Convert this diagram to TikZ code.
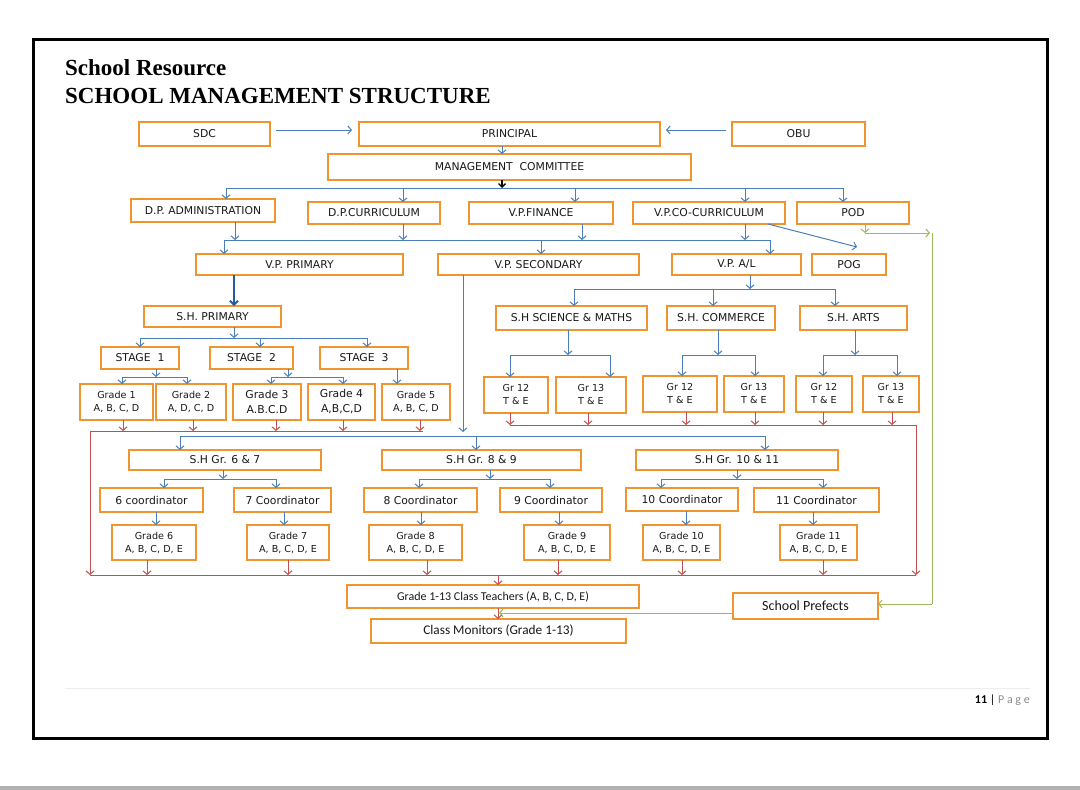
\documentclass[tikz,border=0pt]{standalone}
\usepackage{fontspec}
\setmainfont{Liberation Serif}
\newfontfamily\boxfont{DejaVu Sans}
\newfontfamily\calfont{Carlito}
\usetikzlibrary{arrows.meta,calc}
\definecolor{orgB}{RGB}{240,148,48}
\definecolor{lnB}{RGB}{74,126,187}
\definecolor{lnBd}{RGB}{40,90,160}
\definecolor{lnR}{RGB}{192,80,77}
\definecolor{lnG}{RGB}{155,187,89}
\newcommand\fmain{\boxfont\fontsize{10.8}{15}\selectfont}
\newcommand\fsmall{\boxfont\fontsize{9.6}{13}\selectfont}
\newcommand\fcalA{\calfont\fontsize{12}{12}\selectfont}
\newcommand\fcalB{\calfont\fontsize{13.3}{14}\selectfont}
\newcommand\fcalC{\calfont\fontsize{14}{14}\selectfont}
\newcommand\obox[7][]{\node[box,#1,minimum width={(#4-#2)*1pt},minimum height={(#5-#3)*1pt}] (#6) at ({(#2+#4)/2},{(#3+#5)/2}) {#7};}
\tikzset{
 box/.style={draw=orgB, line width=1.6pt, fill=white, inner sep=0pt, outer sep=0pt, align=center, font=\fmain, text=black!90},
 small/.style={font=\fsmall},
 cala/.style={font=\fcalA},
 calb/.style={font=\fcalB},
 calc3/.style={font=\fcalC},
 bl/.style={draw=lnB, line width=1pt},
 ba/.style={bl, -{Straight Barb[length=3.5pt,width=8pt]}},
 bthick/.style={draw=lnBd, line width=1.8pt, -{Straight Barb[length=4pt,width=8pt]}},
 rl/.style={draw=lnR, line width=1pt},
 ra/.style={rl, -{Straight Barb[length=3.5pt,width=8pt]}},
 gl/.style={draw=lnG, line width=1pt},
 ga/.style={gl, -{Straight Barb[length=3.5pt,width=8pt]}},
 ka/.style={draw=black, line width=1.3pt, -{Straight Barb[length=3.5pt,width=7pt]}},
}
\begin{document}
\begin{tikzpicture}[x=1pt,y=-1pt]
\useasboundingbox (0,0) rectangle (1080,790);
\fill[white] (0,0) rectangle (1080,790);
\fill[black!30] (0,786) rectangle (1080,790);
\draw[line width=3pt] (33,39) rectangle (1047,738);
\draw[black!7, line width=1pt] (65,688) -- (1030,688);
\node[anchor=base west, inner sep=0pt, font=\fontsize{23}{26}\selectfont\bfseries] (t1) at (65,75) {School Resource};
\node[anchor=base west, inner sep=0pt, font=\fontsize{23}{26}\selectfont\bfseries] (t2) at (65,103) {SCHOOL MANAGEMENT STRUCTURE};
\node[anchor=base east, inner sep=0pt, font=\calfont\fontsize{12}{14}\selectfont] (pg) at (1030,703) {\textbf{11} | {\color{black!45}P a g e}};

% boxes
\obox{139}{122}{270}{146}{sdc}{SDC}
\obox{359}{122}{660}{146}{pri}{PRINCIPAL}
\obox{732}{122}{865}{146}{obu}{OBU}
\obox{328}{154}{691}{180}{mc}{MANAGEMENT\ \ COMMITTEE}
\obox{131}{199}{275}{222}{dpa}{D.P. ADMINISTRATION}
\obox{308}{202}{440}{224}{dpc}{D.P.CURRICULUM}
\obox{469}{202}{613}{224}{vpf}{V.P.FINANCE}
\obox{633}{202}{785}{224}{vpc}{V.P.CO-CURRICULUM}
\obox{797}{202}{909}{224}{pod}{POD}
\obox{196}{254}{403}{275}{vpp}{V.P. PRIMARY}
\obox{438}{254}{639}{275}{vps}{V.P. SECONDARY}
\obox{672}{254}{801}{275}{vpa}{V.P. A/L}
\obox{812}{254}{886}{275}{pog}{POG}
\obox{144}{306}{281}{327}{shp}{S.H. PRIMARY}
\obox{496}{306}{647}{330}{shs}{S.H SCIENCE \& MATHS}
\obox{667}{306}{775}{330}{shc}{S.H. COMMERCE}
\obox{800}{306}{907}{330}{sha}{S.H. ARTS}
\obox{101}{347}{179}{369}{st1}{STAGE\ \ 1}
\obox{210}{347}{293}{369}{st2}{STAGE\ \ 2}
\obox{320}{347}{408}{369}{st3}{STAGE\ \ 3}
\obox[small]{80}{384}{153}{420}{g1}{Grade 1\\A, B, C, D}
\obox[small]{156}{384}{226}{420}{g2}{Grade 2\\A, D, C, D}
\obox{233}{384}{301}{420}{g3}{Grade 3\\A.B.C.D}
\obox{308}{384}{375}{420}{g4}{Grade 4\\A,B,C,D}
\obox[small]{382}{384}{450}{420}{g5}{Grade 5\\A, B, C, D}
\obox[small]{484}{377}{548}{413}{a1}{Gr 12\\T \& E}
\obox[small]{556}{377}{626}{413}{a2}{Gr 13\\T \& E}
\obox[small]{643}{376}{717}{412}{a3}{Gr 12\\T \& E}
\obox[small]{724}{376}{784}{412}{a4}{Gr 13\\T \& E}
\obox[small]{796}{376}{852}{412}{a5}{Gr 12\\T \& E}
\obox[small]{863}{376}{919}{412}{a6}{Gr 13\\T \& E}
\obox{129}{450}{321}{470}{s67}{S.H Gr. 6 \& 7}
\obox{382}{450}{581}{470}{s89}{S.H Gr. 8 \& 9}
\obox{636}{450}{838}{470}{s1011}{S.H Gr. 10 \& 11}
\obox{100}{488}{203}{512}{c6}{6 coordinator}
\obox{234}{488}{331}{512}{c7}{7 Coordinator}
\obox{364}{488}{477}{512}{c8}{8 Coordinator}
\obox{500}{488}{602}{512}{c9}{9 Coordinator}
\obox{626}{488}{738}{511}{c10}{10 Coordinator}
\obox{754}{488}{879}{512}{c11}{11 Coordinator}
\obox[small]{112}{525}{196}{560}{g6}{Grade 6\\A, B, C, D, E}
\obox[small]{247}{525}{329}{560}{g7}{Grade 7\\A, B, C, D, E}
\obox[small]{369}{525}{462}{560}{g8}{Grade 8\\A, B, C, D, E}
\obox[small]{524}{525}{610}{560}{g9}{Grade 9\\A, B, C, D, E}
\obox[small]{643}{525}{720}{560}{g10}{Grade 10\\A, B, C, D, E}
\obox[small]{780}{525}{857}{560}{g11}{Grade 11\\A, B, C, D, E}
\obox[cala]{347}{585}{639}{608}{ct}{Grade 1-13 Class Teachers (A, B, C, D, E)}
\obox[calb]{371}{619}{626}{643}{cm}{Class Monitors (Grade 1-13)}
\obox[calc3]{733}{593}{878}{619}{spf}{School Prefects}

% top
\draw[ba] ([shift={(6,-4)}]sdc.east) -- ([shift={(-7,-4)}]pri.west);
\draw[ba] ([shift={(-6,-4)}]obu.west) -- ([shift={(6,-4)}]pri.east);
\coordinate (P0) at (502,0);
\draw[ba] (P0 |- pri.south) -- (P0 |- mc.north);
% bus A
\coordinate (A1) at (226,188); \coordinate (A2) at (403,188); \coordinate (A3) at (575,188);
\coordinate (A4) at (745,188); \coordinate (A5) at (843,188); \coordinate (Am) at (502,188);
\draw[bl] (A1) -- (A5);
\draw[ka] (Am |- mc.south) -- (Am);
\foreach \c/\n in {A1/dpa,A2/dpc,A3/vpf,A4/vpc,A5/pod} \draw[ba] (\c) -- (\c |- \n.north);
% bus B
\coordinate (B1) at (224,240); \coordinate (B2) at (541,240); \coordinate (B3) at (770,240);
\coordinate (Bd1) at (235,240); \coordinate (Bd2) at (403,240); \coordinate (Bd3) at (582,240); \coordinate (Bd4) at (745,240);
\draw[bl] (B1) -- (B3);
\foreach \c/\n in {Bd1/dpa,Bd2/dpc,Bd3/vpf,Bd4/vpc} \draw[ba] (\c |- \n.south) -- (\c);
\foreach \c/\n in {B1/vpp,B2/vps,B3/vpa} \draw[ba] (\c) -- (\c |- \n.north);
\draw[ba] ([xshift=-17pt]vpc.south east) -- ([shift={(8,-7)}]pog.north);
% green
\coordinate (G0) at (865,233); \coordinate (G1) at (930,233); \coordinate (G2) at (932,233);
\coordinate (G3) at (932,604); \coordinate (G4) at (499,613);
\draw[ga] (G0 |- pod.south) -- (G0);
\draw[ga] (G0) -- (G1);
\draw[gl] (G2) -- (G3);
\draw[ga] (G3) -- (G3 -| spf.east);
\draw[ga] (G4 -| spf.west) -- (G4);
% primary
\coordinate (X1) at (234,0);
\draw[bthick] (X1 |- vpp.south) -- (X1 |- shp.north);
\coordinate (C0) at (234,338); \coordinate (C1) at (140,338); \coordinate (C2) at (260,338); \coordinate (C3) at (367,338);
\draw[ba] (C0 |- shp.south) -- (C0);
\draw[bl] (C1) -- (C3);
\foreach \c/\n in {C1/st1,C2/st2,C3/st3} \draw[ba] (\c) -- (\c |- \n.north);
\coordinate (E0) at (156,377); \coordinate (E1) at (122,377); \coordinate (E2) at (187,377);
\draw[ba] (E0 |- st1.south) -- (E0);
\draw[bl] (E1) -- (E2);
\foreach \c/\n in {E1/g1,E2/g2} \draw[ba] (\c) -- (\c |- \n.north);
\coordinate (F0) at (288,377); \coordinate (F1) at (271,377); \coordinate (F2) at (343,377);
\draw[ba] (F0 |- st2.south) -- (F0);
\draw[bl] (F1) -- (F2);
\foreach \c/\n in {F1/g3,F2/g4} \draw[ba] (\c) -- (\c |- \n.north);
\coordinate (F3) at (397,0);
\draw[ba] (F3 |- st3.south) -- (F3 |- g5.north);
% A/L
\coordinate (H0) at (750,289); \coordinate (H1) at (574,289); \coordinate (H2) at (713,289); \coordinate (H3) at (835,289);
\draw[ba] (H0 |- vpa.south) -- (H0);
\draw[bl] (H1) -- (H3);
\foreach \c/\n in {H1/shs,H2/shc,H3/sha} \draw[ba] (\c) -- (\c |- \n.north);
\foreach \p/\q/\r/\s/\u/\v/\w in {568/510/610/shs/a1/a2/I, 718/682/755/shc/a3/a4/J, 855/823/897/sha/a5/a6/K}{
  \coordinate (\w0) at (\p,355); \coordinate (\w1) at (\q,355); \coordinate (\w2) at (\r,355);
  \draw[ba] (\w0 |- \s.south) -- (\w0);
  \draw[bl] (\w1) -- (\w2);
  \draw[ba] (\w1) -- (\w1 |- \u.north);
  \draw[ba] (\w2) -- (\w2 |- \v.north);
}
% secondary
\coordinate (D0) at (463,432);
\draw[ba] (D0 |- vps.south) -- (D0);
\coordinate (D1) at (180,436); \coordinate (D2) at (476,436); \coordinate (D3) at (765,436);
\draw[bl] (D1) -- (D3);
\foreach \c/\n in {D1/s67,D2/s89,D3/s1011} \draw[ba] (\c) -- (\c |- \n.north);
\foreach \p/\q/\r/\s/\u/\v/\w in {223/164/276/s67/c6/c7/L, 490/419/550/s89/c8/c9/M, 737/661/823/s1011/c10/c11/N}{
  \coordinate (\w0) at (\p,479); \coordinate (\w1) at (\q,479); \coordinate (\w2) at (\r,479);
  \draw[ba] (\w0 |- \s.south) -- (\w0);
  \draw[bl] (\w1) -- (\w2);
  \draw[ba] (\w1) -- (\w1 |- \u.north);
  \draw[ba] (\w2) -- (\w2 |- \v.north);
}
\foreach \x/\a/\b in {156/c6/g6, 284/c7/g7, 421/c8/g8, 559/c9/g9, 686/c10/g10, 813/c11/g11}{
  \coordinate (tmp) at (\x,0);
  \draw[ba] (tmp |- \a.south) -- (tmp |- \b.north);
}
% red
\coordinate (R1) at (90,431); \coordinate (R2) at (423,431);
\coordinate (R3) at (90,575); \coordinate (R4) at (916,575);
\coordinate (R5) at (510,425); \coordinate (R6) at (916,425);
\draw[rl] (R1) -- (R2);
\draw[ra] (R1) -- (R3);
\draw[rl] (R3) -- (R4);
\draw[rl] (R5) -- (R6);
\draw[ra] (R6) -- (R4);
\foreach \x/\n in {123/g1,193/g2,276/g3,343/g4,420/g5}{
  \coordinate (tmp) at (\x,431); \draw[ra] (tmp |- \n.south) -- (tmp);}
\foreach \x/\n in {510/a1,588/a2,686/a3,755/a4,823/a5,892/a6}{
  \coordinate (tmp) at (\x,425); \draw[ra] (tmp |- \n.south) -- (tmp);}
\foreach \x/\n in {147/g6,288/g7,427/g8,558/g9,682/g10,823/g11}{
  \coordinate (tmp) at (\x,575); \draw[ra] (tmp |- \n.south) -- (tmp);}
\coordinate (R7) at (498,575);
\draw[ra] (R7) -- (R7 |- ct.north);
\draw[ra] (R7 |- ct.south) -- (R7 |- cm.north);
\end{tikzpicture}
\end{document}
